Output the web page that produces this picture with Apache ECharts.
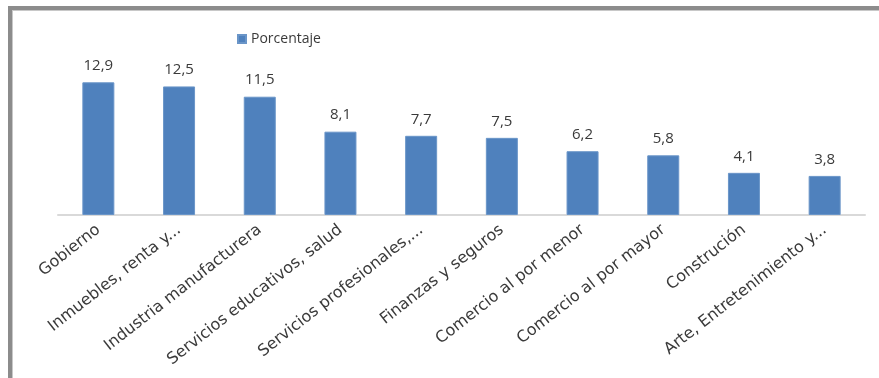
<!DOCTYPE html>
<html>
<head>
<meta charset="utf-8">
<script src="https://cdn.jsdelivr.net/npm/echarts@6/dist/echarts.min.js"></script>
<style>
  html, body { margin: 0; padding: 0; background: #ffffff; }
  #chart { width: 879px; height: 378px; }
</style>
</head>
<body>
<div id="chart"></div>
<script>
// Sector shares (percent)
const categories = [
  'Gobierno',
  'Inmuebles, renta y...',
  'Industria manufacturera',
  'Servicios educativos, salud',
  'Servicios profesionales,...',
  'Finanzas y seguros',
  'Comercio al por menor',
  'Comercio al por mayor',
  'Construción',
  'Arte, Entretenimiento y...'
];
const seriesName = 'Porcentaje';
const porcentaje = [12.9, 12.5, 11.5, 8.1, 7.7, 7.5, 6.2, 5.8, 4.1, 3.8];

const chart = echarts.init(document.getElementById('chart'), null, { renderer: 'canvas' });

const textColor = '#3a3a3a';
const fontFamily = '"Open Sans", "Noto Sans", sans-serif';

chart.setOption({
  backgroundColor: '#ffffff',
  animation: false,
  legend: {
    data: [seriesName],
    top: 27,
    left: 232,
    itemWidth: 8,
    itemHeight: 8,
    itemGap: 4,
    icon: 'rect',
    textStyle: { color: textColor, fontSize: 14, fontFamily: fontFamily }
  },
  grid: { left: 58, right: 14, top: 71, bottom: 163, containLabel: false },
  xAxis: {
    type: 'category',
    data: categories,
    axisLine: { show: true, lineStyle: { color: '#d9d9d9', width: 2 } },
    axisTick: { show: false },
    axisLabel: {
      interval: 0,
      rotate: 38,
      margin: 13,
      color: textColor,
      fontSize: 16,
      fontFamily: '"DejaVu Sans", sans-serif'
    }
  },
  yAxis: {
    type: 'value',
    min: 0,
    max: 14,
    show: false
  },
  series: [{
    name: seriesName,
    type: 'bar',
    data: porcentaje,
    barWidth: 32,
    itemStyle: { color: '#4f81bd', borderColor: '#6a95c8', borderWidth: 1 },
    label: {
      show: true,
      position: 'top',
      distance: 9,
      color: textColor,
      fontSize: 15,
      fontFamily: fontFamily,
      formatter: p => String(p.value).replace('.', ',')
    }
  }],
  graphic: [
    // chart frame: top and left edges
    { type: 'rect', shape: { x: 8, y: 6, width: 871, height: 4 }, style: { fill: '#8c8c8c' }, silent: true },
    { type: 'rect', shape: { x: 8, y: 6, width: 4, height: 372 }, style: { fill: '#8c8c8c' }, silent: true },
    { type: 'rect', shape: { x: 12, y: 10, width: 867, height: 1 }, style: { fill: '#c8c8c8' }, silent: true },
    { type: 'rect', shape: { x: 12, y: 10, width: 1, height: 368 }, style: { fill: '#c8c8c8' }, silent: true }
  ]
});
</script>
</body>
</html>
